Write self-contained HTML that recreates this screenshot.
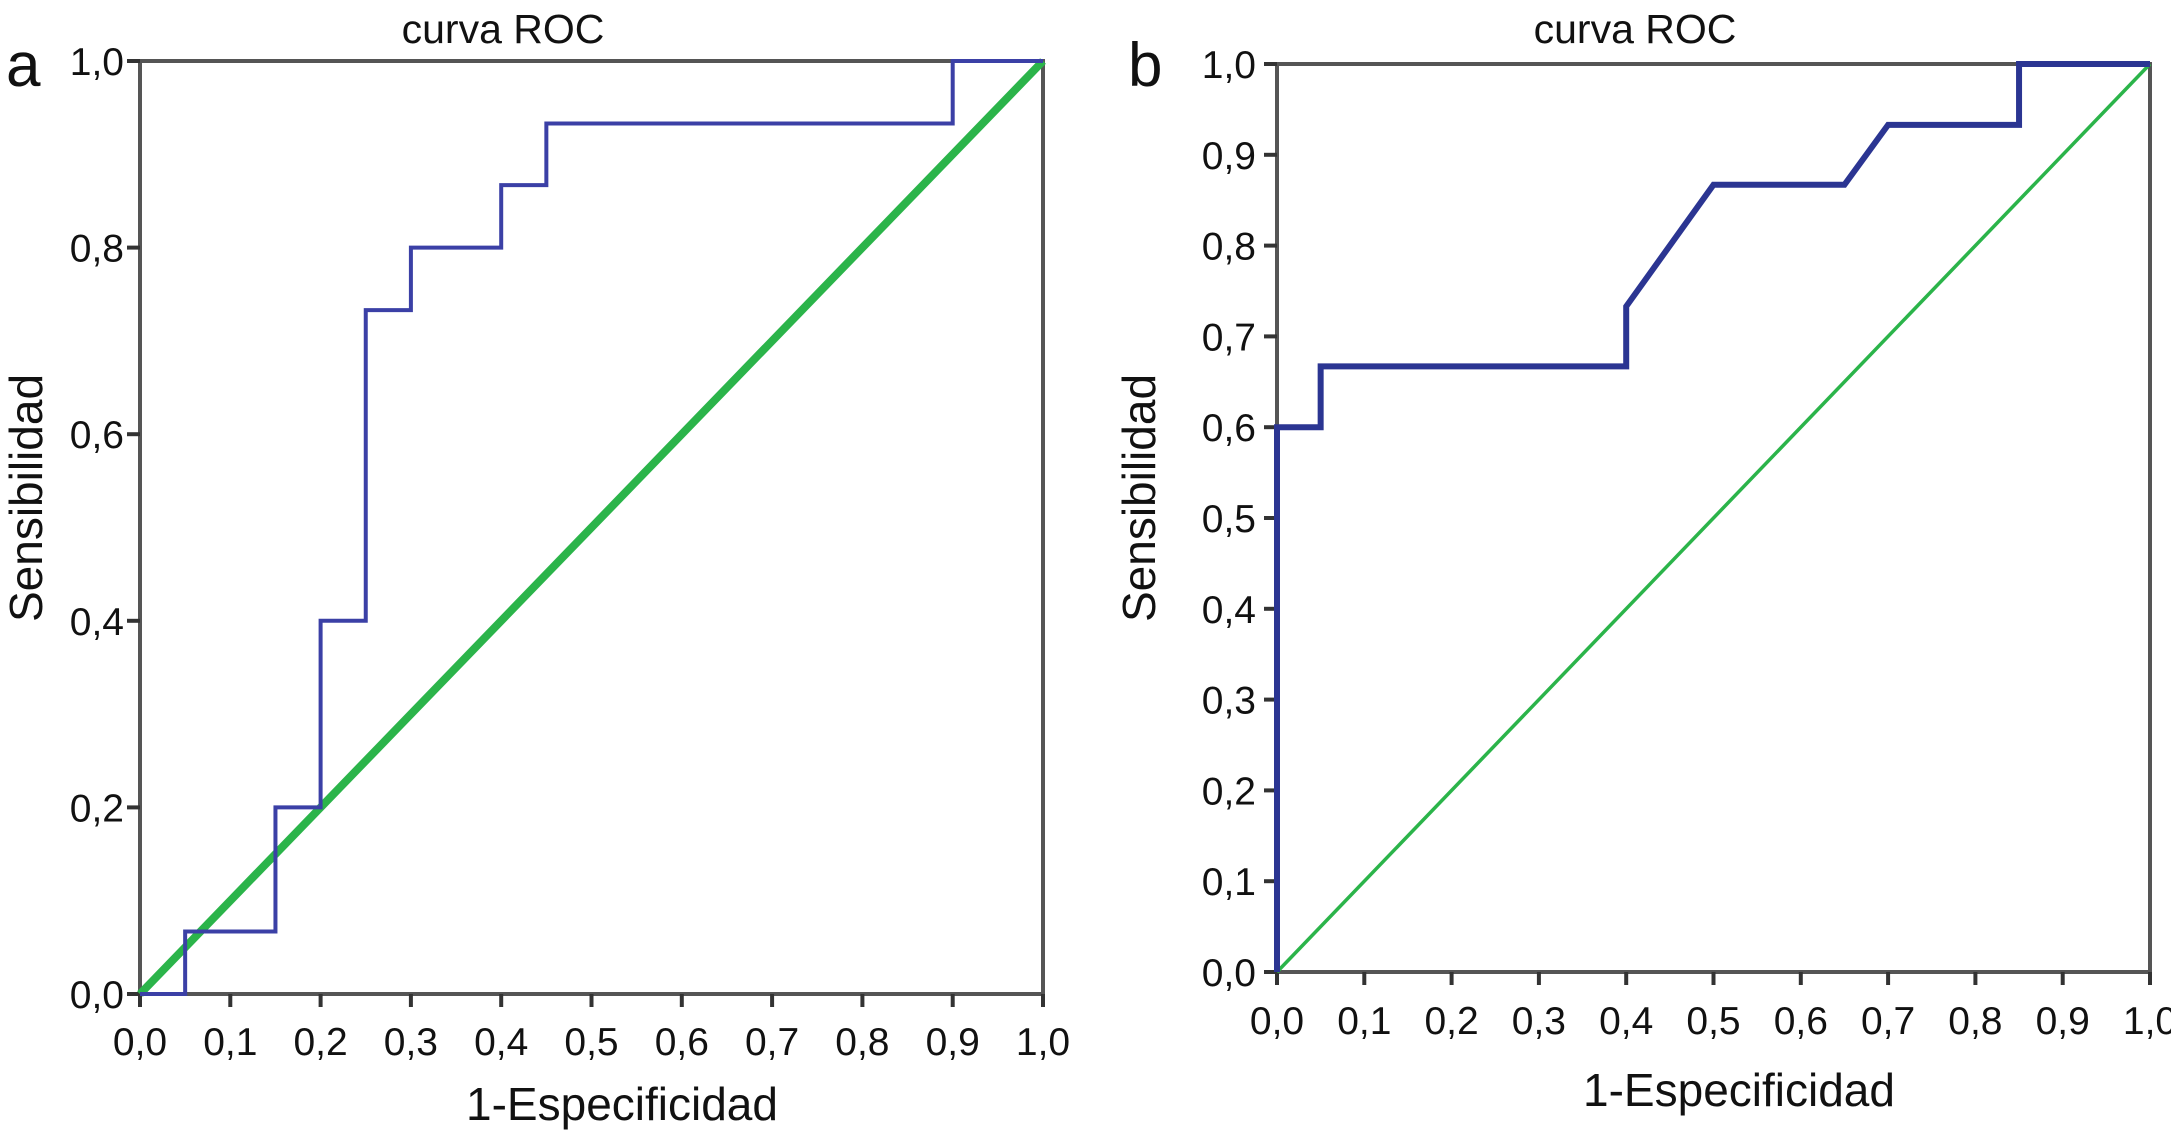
<!DOCTYPE html>
<html><head><meta charset="utf-8"><style>
html,body{margin:0;padding:0;background:#fff;}
svg{display:block;font-family:"Liberation Sans",sans-serif;}
</style></head><body>
<svg id="chart" width="2171" height="1133" viewBox="0 0 2171 1133"></svg>
<script>
const xTicksA = [0,0.1,0.2,0.3,0.4,0.5,0.6,0.7,0.8,0.9,1.0];
const yTicksA = [0,0.2,0.4,0.6,0.8,1.0];
const rocAx = [0,0.05,0.05,0.15,0.15,0.2,0.2,0.25,0.25,0.3,0.3,0.4,0.4,0.45,0.45,0.9,0.9,1.0];
const rocAy = [0,0,0.067,0.067,0.2,0.2,0.4,0.4,0.733,0.733,0.8,0.8,0.867,0.867,0.933,0.933,1.0,1.0];
const xTicksB = [0,0.1,0.2,0.3,0.4,0.5,0.6,0.7,0.8,0.9,1.0];
const yTicksB = [0,0.1,0.2,0.3,0.4,0.5,0.6,0.7,0.8,0.9,1.0];
const rocBx = [0,0,0.05,0.05,0.4,0.4,0.5,0.65,0.7,0.85,0.85,1.0];
const rocBy = [0,0.6,0.6,0.667,0.667,0.733,0.867,0.867,0.933,0.933,1.0,1.0];
const refX = [0,1];
const refY = [0,1];

const svg = document.getElementById('chart');
const NS = 'http://www.w3.org/2000/svg';
function mk(tag, attrs, parent){const e=document.createElementNS(NS,tag);for(const k in attrs)e.setAttribute(k,attrs[k]);(parent||svg).appendChild(e);return e;}
const fmt = v => v.toFixed(1).replace('.',',');

function panel(p){
  const g = mk('g',{});
  
  
  const sx = v => p.l + v*(p.r-p.l);
  const sy = v => p.b - v*(p.b-p.t);
  const fr = mk('rect',{x:p.l,y:p.t,width:p.r-p.l,height:p.b-p.t,fill:'none',stroke:'#555','stroke-width':4},g);
  
  
  p.xt.forEach(v=>{
    const t = mk('line',{x1:sx(v),x2:sx(v),y1:p.b,y2:p.b+13,stroke:'#333','stroke-width':4},g);
    
    
    const tx = mk('text',{x:sx(v),y:p.xly,'font-size':39,'text-anchor':'middle',fill:'#111'},g);
    tx.textContent = fmt(v);
    
    
  });
  p.yt.forEach(v=>{
    const t = mk('line',{x1:p.l-13,x2:p.l,y1:sy(v),y2:sy(v),stroke:'#333','stroke-width':4},g);
    
    
    const tx = mk('text',{x:p.ylx,y:sy(v)+14,'font-size':39,'text-anchor':'end',fill:'#111'},g);
    tx.textContent = fmt(v);
    
    
  });
  const ref = mk('polyline',{points:refX.map((x,i)=>sx(x)+','+sy(refY[i])).join(' '),fill:'none',stroke:'#2bb44a','stroke-width':p.gw},g);
  
  
  const roc = mk('polyline',{points:p.rx.map((x,i)=>sx(x)+','+sy(p.ry[i])).join(' '),fill:'none',stroke:p.bc,'stroke-width':p.bw,'stroke-linejoin':'miter'},g);
  
  
  const ti = mk('text',{x:p.tx,y:43,'font-size':41,'text-anchor':'middle',fill:'#111'},g);
  ti.textContent = 'curva ROC';
  
  
  const xl = mk('text',{x:p.xlx,y:p.xlty,'font-size':46,'text-anchor':'middle',fill:'#111'},g);
  xl.textContent = '1-Especificidad';
  
  
  const yl = mk('text',{x:0,y:0,'font-size':46,'text-anchor':'middle',fill:'#111',transform:'translate('+p.yltx+',498) rotate(-90)'},g);
  yl.textContent = 'Sensibilidad';
  
  
  const lt = mk('text',{x:p.letx,y:86,'font-size':62,fill:'#111'},g);
  lt.textContent = p.letter;
  
  
}
panel({id:'a',l:140,r:1043,t:61,b:994,xt:xTicksA,yt:yTicksA,rx:rocAx,ry:rocAy,bc:'#3b40a6',bw:4,gw:8,
  xly:1055,ylx:124,tx:503,xlx:622,xlty:1120,yltx:42,letx:6,letter:'a'});
panel({id:'b',l:1277,r:2150,t:64,b:972,xt:xTicksB,yt:yTicksB,rx:rocBx,ry:rocBy,bc:'#2b3592',bw:6,gw:3.5,
  xly:1034,ylx:1256,tx:1635,xlx:1739,xlty:1106,yltx:1155,letx:1128,letter:'b'});
</script>
</body></html>
